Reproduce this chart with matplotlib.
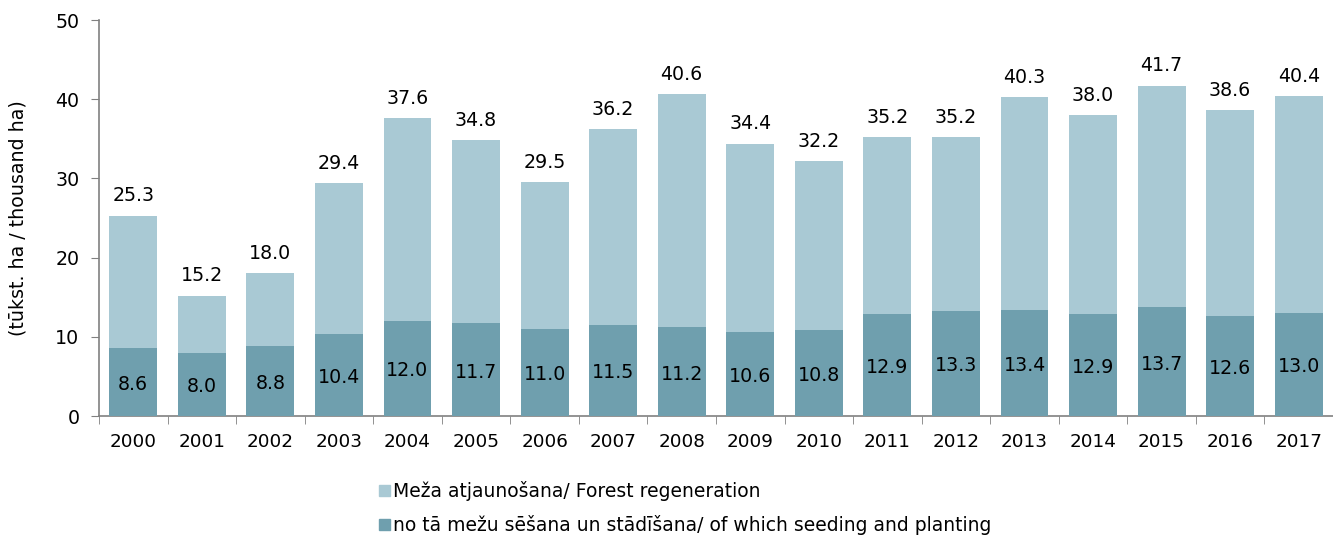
import matplotlib
matplotlib.use("Agg")
import matplotlib.pyplot as plt
import numpy as np
from matplotlib.patches import Patch

years = [str(y) for y in range(2000, 2018)]
regeneration = [25.3, 15.2, 18.0, 29.4, 37.6, 34.8, 29.5, 36.2, 40.6, 34.4,
                32.2, 35.2, 35.2, 40.3, 38.0, 41.7, 38.6, 40.4]
seeding_planting = [8.6, 8.0, 8.8, 10.4, 12.0, 11.7, 11.0, 11.5, 11.2, 10.6,
                    10.8, 12.9, 13.3, 13.4, 12.9, 13.7, 12.6, 13.0]

light = "#a9c9d4"
dark = "#6f9fae"
fs = 13.2
fs_big = 13.7

fig = plt.figure(figsize=(13.33, 5.36), dpi=100)
ax = fig.add_axes([99 / 1333, 1 - 416 / 536, 1 - 99 / 1333, (416 - 20) / 536])

x = np.arange(len(years))
ax.bar(x, regeneration, width=0.7, color=light, zorder=2)
ax.bar(x, seeding_planting, width=0.7, color=dark, zorder=3)

for xi, tot, part in zip(x, regeneration, seeding_planting):
    ax.text(xi, tot + 1.3, f"{tot:.1f}", ha="center", va="bottom", fontsize=fs_big)
    ax.text(xi, part / 2 - 0.3, f"{part:.1f}", ha="center", va="center", fontsize=fs_big)

ax.set_xlim(-0.5, 17.41)
ax.set_ylim(0, 50)
ax.set_yticks(range(0, 51, 10))
ax.set_xticks(x)
ax.set_xticklabels(years, fontsize=fs)
ax.set_xticks(np.arange(-0.5, 17.6, 1), minor=True)
ax.tick_params(axis="x", which="major", length=0, pad=12)
ax.tick_params(axis="x", which="minor", length=6, color="#808080", direction="out")
ax.tick_params(axis="y", labelsize=fs_big, length=6, color="#808080", pad=8)

for side in ["top", "right"]:
    ax.spines[side].set_visible(False)
for side in ["left", "bottom"]:
    ax.spines[side].set_color("#808080")
    ax.spines[side].set_linewidth(1.2)

ax.set_ylabel("(tūkst. ha / thousand ha)", fontsize=fs_big, labelpad=20)

handles = [Patch(color=light), Patch(color=dark)]
labels = ["Meža atjaunošana/ Forest regeneration",
          "no tā mežu sēšana un stādīšana/ of which seeding and planting"]
fig.legend(handles, labels, loc="upper left", bbox_to_anchor=(370 / 1333, 1 - 472 / 536),
           frameon=False, fontsize=13.5, handlelength=0.55, handleheight=0.55,
           handletextpad=0.2, labelspacing=0.75, borderpad=0)

fig.savefig("out.png", dpi=100)
